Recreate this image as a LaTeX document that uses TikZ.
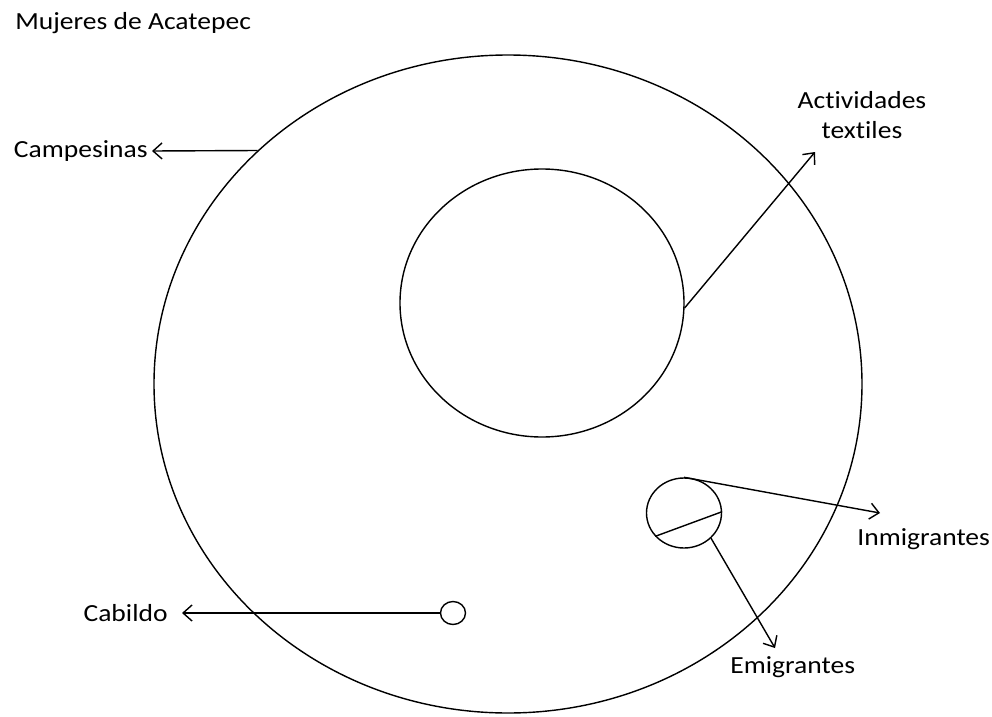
\documentclass[tikz,border=0pt]{standalone}
\usepackage{fontspec}
\setmainfont{Carlito}[Ligatures=NoCommon]
\usepackage{tikz}
\usetikzlibrary{shapes.geometric, arrows.meta, positioning}

\begin{document}
\begin{tikzpicture}[
    x=0.02cm, y=-0.02cm,
    ring/.style={draw, ellipse, inner sep=0pt, line width=0.8pt},
    arrow/.style={-{Straight Barb[length=1.8mm, width=3.2mm]}, line width=0.8pt},
    tag/.style={font=\fontsize{14}{17}\selectfont, inner sep=0pt, align=center,
                xscale=1.12, transform shape},
]
\useasboundingbox (0,0) rectangle (992,717);

% Circles
\node[ring, minimum width=708*0.02cm, minimum height=658*0.02cm] (campesinas) at (508,384) {};
\node[ring, minimum width=284*0.02cm, minimum height=268*0.02cm] (textil) at (542,303) {};
\node[ring, minimum width=75*0.02cm, minimum height=70*0.02cm] (migra) at (684,513) {};
\node[ring, minimum width=25*0.02cm, minimum height=23*0.02cm] (cabildo) at (453,613) {};

% Labels
\node[tag, anchor=base west] (titulo) at (15,29) {Mujeres de Acatepec};
\node[tag, anchor=east] (lcampesinas) at (148,151) {Campesinas};
\node[tag] (ltextil) at (862,115) {Actividades\\textiles};
\node[tag, anchor=west] (linmigra) at (857,539) {Inmigrantes};
\node[tag, anchor=west] (lemigra) at (730,667) {Emigrantes};
\node[tag, anchor=east] (lcabildo) at (168,613) {Cabildo};

% Arrow ends
\coordinate (pcampesinas) at (152,151);
\coordinate (ptextil) at (815,152);
\coordinate (pinmigra) at (880,513);
\coordinate (pemigra) at (775,648);
\coordinate (pcabildo) at (182,613);

% Connectors
\draw[arrow] (campesinas.137) -- (pcampesinas);
\draw[arrow] (textil.-2) -- (ptextil);
\draw[line width=0.8pt] (migra.219) -- (migra.2);
\draw[arrow] (migra.north) -- (pinmigra);
\draw[arrow] (migra.-43) -- (pemigra);
\draw[arrow] (cabildo.west) -- (pcabildo);

\end{tikzpicture}
\end{document}
